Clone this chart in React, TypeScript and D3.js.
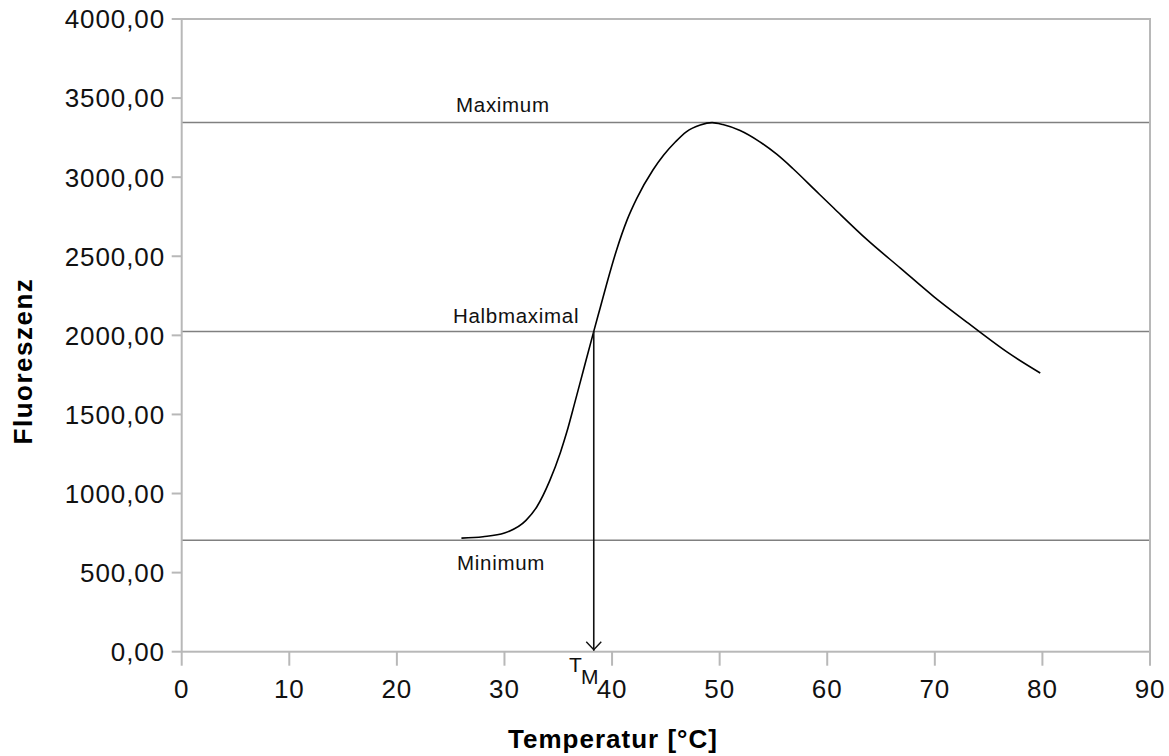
import React from "react";
import * as d3 from "d3";

// Melting curve: temperature (°C) vs. fluorescence
const temperatures = [26, 28, 30, 32, 33, 34.2, 35.2, 35.8, 36.5, 37.3, 38.3, 38.9, 39.5, 40.4, 41.4, 42.3, 43.8, 44.8, 45.9, 46.9, 48.2, 49.3, 50.3, 51.9, 53.7, 55.3, 56.8, 59.0, 60.6, 63.7, 66.8, 69.9, 73.0, 74.2, 76.7, 79.8];
const fluorescence = [718, 727, 750, 830, 915, 1080, 1260, 1390, 1565, 1770, 2025, 2175, 2325, 2535, 2730, 2866, 3045, 3140, 3224, 3287, 3330, 3345, 3333, 3295, 3225, 3145, 3055, 2910, 2805, 2605, 2425, 2245, 2082, 2020, 1895, 1762];

const xTicks = [0, 10, 20, 30, 40, 50, 60, 70, 80, 90];
const yTicks = [0, 500, 1000, 1500, 2000, 2500, 3000, 3500, 4000];

const minimumValue = 705;
const maximumValue = 3345;
const halfValue = (minimumValue + maximumValue) / 2;
const meltingTemp = 38.3;

const levelLines = [
  { label: "Maximum", value: maximumValue, labelX: 456, dy: -11 },
  { label: "Halbmaximal", value: halfValue, labelX: 453, dy: -8 },
  { label: "Minimum", value: minimumValue, labelX: 457, dy: 30 },
];

const W = 1169;
const H = 756;
const FONT = "'Liberation Sans', Arial, sans-serif";

export default function App() {
  const x = d3.scaleLinear().domain([0, 90]).range([181.7, 1150]);
  const y = d3.scaleLinear().domain([0, 4000]).range([651.7, 19]);
  const fmt = (v: number) => d3.format(".2f")(v).replace(".", ",");

  const points: [number, number][] = temperatures.map((t, i) => [t, fluorescence[i]]);
  const line = d3
    .line<[number, number]>()
    .x((d) => x(d[0]))
    .y((d) => y(d[1]))
    .curve(d3.curveMonotoneX);

  const x0 = x(0);
  const x1 = x(90);
  const y0 = y(0);
  const y1 = y(4000);
  const frame = "#b8b8b8";
  const tm = x(meltingTemp);

  return (
    <svg
      width={W}
      height={H}
      style={{ position: "absolute", left: 0, top: 0, background: "#fff" }}
      fontFamily={FONT}
    >
      <rect x={0} y={0} width={W} height={H} fill="#fff" />

      {/* level lines */}
      {levelLines.map((l) => (
        <g key={l.label}>
          <line x1={x0} x2={x1} y1={y(l.value)} y2={y(l.value)} stroke="#808080" strokeWidth={1.5} />
          <text x={l.labelX} y={y(l.value) + l.dy} fontSize={20.5} letterSpacing={0.7} fill="#111">
            {l.label}
          </text>
        </g>
      ))}

      {/* plot frame */}
      <rect x={x0} y={y1} width={x1 - x0} height={y0 - y1} fill="none" stroke={frame} strokeWidth={2} />

      {/* y ticks */}
      {yTicks.map((v) => (
        <g key={v}>
          <line x1={x0 - 10} x2={x0} y1={y(v)} y2={y(v)} stroke={frame} strokeWidth={2} />
          <text x={165} y={y(v)} dy="0.36em" textAnchor="end" fontSize={26} letterSpacing={0.9} fill="#111">
            {fmt(v)}
          </text>
        </g>
      ))}

      {/* x ticks */}
      {xTicks.map((v) => (
        <g key={v}>
          <line x1={x(v)} x2={x(v)} y1={y0} y2={y0 + 14} stroke={frame} strokeWidth={2} />
          <text x={x(v)} y={698} textAnchor="middle" fontSize={26} letterSpacing={0.9} fill="#111">
            {v}
          </text>
        </g>
      ))}

      {/* curve */}
      <path d={line(points) ?? ""} fill="none" stroke="#000" strokeWidth={1.6} />

      {/* melting temperature arrow */}
      <line x1={tm} x2={tm} y1={y(halfValue)} y2={y0 - 1} stroke="#111" strokeWidth={1.6} />
      <path
        d={`M${tm - 7.5},${y0 - 10} L${tm},${y0 - 2} L${tm + 7.5},${y0 - 10}`}
        fill="none"
        stroke="#111"
        strokeWidth={1.4}
      />
      <text x={569} y={672} fontSize={21} fill="#111">
        T
      </text>
      <text x={581} y={684} fontSize={21} fill="#111">
        M
      </text>

      {/* axis titles */}
      <text x={613} y={748} textAnchor="middle" fontSize={26} letterSpacing={1} fontWeight="bold" fill="#000">
        Temperatur [°C]
      </text>
      <text
        transform={`translate(32,361) rotate(-90)`}
        textAnchor="middle"
        fontSize={26}
        fontWeight="bold"
        fill="#000"
        letterSpacing={1.5}
      >
        Fluoreszenz
      </text>
    </svg>
  );
}
